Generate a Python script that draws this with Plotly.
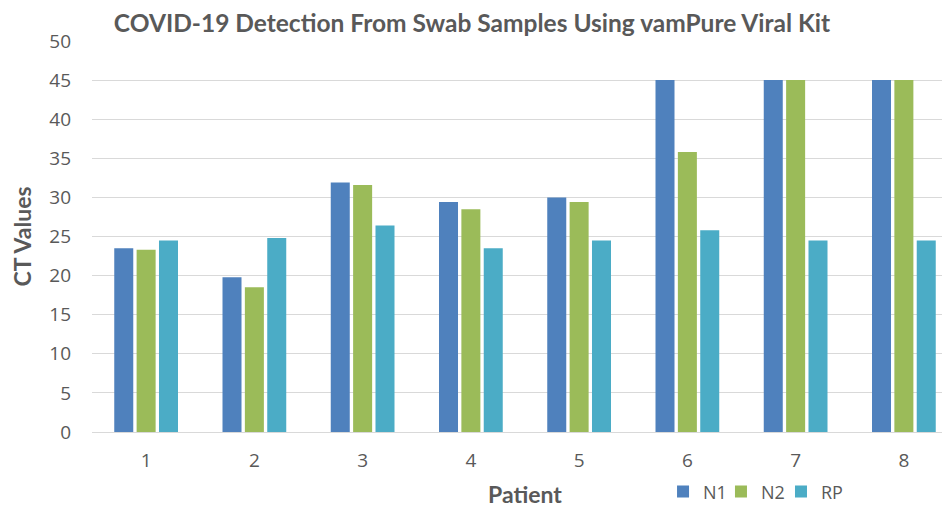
import plotly.graph_objects as go

patients = ["1", "2", "3", "4", "5", "6", "7", "8"]
n1 = [23.5, 19.8, 31.9, 29.4, 30.0, 45, 45, 45]
n2 = [23.3, 18.5, 31.6, 28.5, 29.4, 35.8, 45, 45]
rp = [24.5, 24.8, 26.4, 23.5, 24.5, 25.8, 24.5, 24.5]
series_names = ["N1", "N2", "RP"]
colors = ["#4F81BD", "#9BBB59", "#4BACC6"]
legend_ids = ["legend", "legend2", "legend3"]
legend_x = [0.6594, 0.7263, 0.7956]

fig = go.Figure()
for name, vals, col, lid in zip(series_names, [n1, n2, rp], colors, legend_ids):
    fig.add_trace(go.Bar(x=patients, y=vals, name=name, marker_color=col,
                         marker_line_width=0, legend=lid, showlegend=True))

tick_font = dict(family="Open Sans, sans-serif", size=19, color="#595959")
title_font = dict(family="Lato, sans-serif", size=23, color="#595959")
leg_font = dict(family="Open Sans, sans-serif", size=18, color="#595959")

layout_legends = {}
for lid, lx in zip(legend_ids, legend_x):
    layout_legends[lid] = dict(orientation="h", x=lx, y=-0.153, xanchor="left",
                               yanchor="middle", font=leg_font, itemwidth=30,
                               bgcolor="rgba(0,0,0,0)", visible=True)

fig.update_layout(
    width=950, height=500, showlegend=True,
    paper_bgcolor="white", plot_bgcolor="white",
    margin=dict(l=84, r=0, t=33, b=76, autoexpand=False),
    barmode="group", bargap=0.38, bargroupgap=0.15,
    title=dict(text="<b>COVID-19 Detection From Swab Samples Using vamPure Viral Kit</b>",
               x=464 / 950, xref="container", xanchor="center",
               y=1 - 15.5 / 500, yref="container", yanchor="middle",
               font=dict(family="Lato, sans-serif", size=24.5, color="#595959")),
    xaxis=dict(title=dict(text="<b>Patient</b>", font=title_font, standoff=20),
               tickfont=tick_font, ticklabelstandoff=11,
               showline=True, linecolor="#D9D9D9", linewidth=1,
               ticks="", showgrid=False),
    yaxis=dict(title=dict(text="<b>CT Values</b>", font=title_font, standoff=14),
               range=[0, 50], dtick=5, tickfont=tick_font, ticklabelstandoff=20,
               showgrid=True, gridcolor="#D9D9D9", gridwidth=1,
               zeroline=False, showline=False, ticks=""),
    font=dict(family="Open Sans, sans-serif", color="#595959"),
    **layout_legends,
)
fig.write_html("out.html")
